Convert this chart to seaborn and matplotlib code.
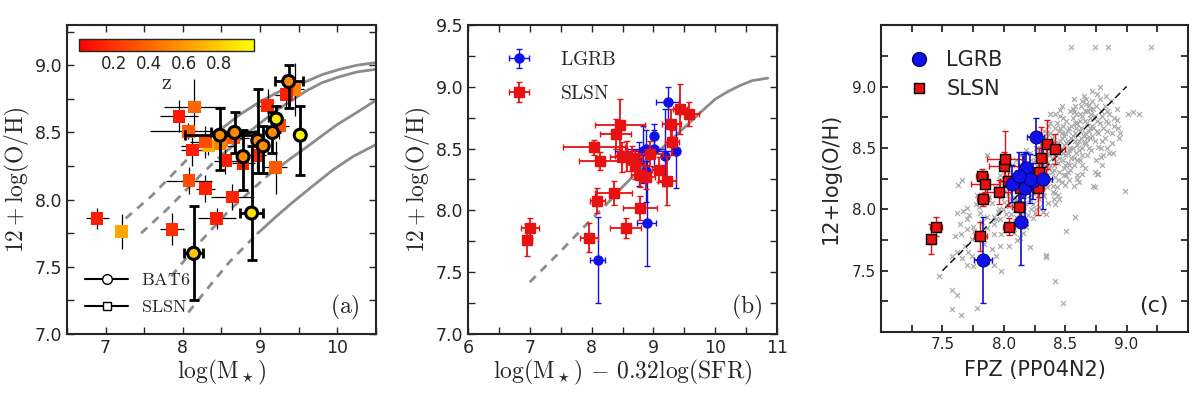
import matplotlib
matplotlib.use("Agg")
import matplotlib.pyplot as plt
import seaborn as sns
from matplotlib.lines import Line2D
from matplotlib.ticker import MultipleLocator, FixedLocator
import matplotlib.cm as cm
import matplotlib.colors as mcolors

# ---- SLSN hosts (panels a, b) ----
slsn_oh = [7.76, 7.86, 7.78, 8.08, 8.14, 7.86, 8.02, 8.51, 8.40, 8.62, 8.69, 8.43,
           8.44, 8.42, 8.37, 8.29, 8.27, 8.46, 8.33, 8.24, 8.55, 8.70, 8.82, 8.78]
slsn_mass = [7.21, 6.89, 7.86, 8.29, 8.08, 8.44, 8.64, 8.07, 8.33, 7.95, 8.15, 8.29,
             8.50, 8.48, 8.12, 8.55, 8.78, 8.66, 8.96, 9.20, 9.25, 9.10, 9.45, 9.34]
slsn_mu = [6.96, 7.00, 7.96, 8.09, 8.36, 8.55, 8.78, 8.04, 8.14, 8.39, 8.46, 8.49,
           8.58, 8.66, 8.70, 8.78, 8.88, 8.95, 9.09, 9.22, 9.30, 9.29, 9.43, 9.58]
slsn_z = [0.65, 0.12, 0.18, 0.12, 0.30, 0.12, 0.15, 0.35, 0.70, 0.10, 0.40, 0.30,
          0.45, 0.50, 0.12, 0.12, 0.12, 0.35, 0.15, 0.35, 0.30, 0.15, 0.50, 0.12]
slsn_oh_err = [0.13, 0.08, 0.12, 0.10, 0.10, 0.08, 0.10, 0.06, 0.07, 0.12, 0.21, 0.12,
               0.12, 0.10, 0.12, 0.10, 0.10, 0.10, 0.10, 0.20, 0.10, 0.12, 0.20, 0.10]
slsn_x_err = [0.07, 0.15, 0.15, 0.12, 0.30, 0.25, 0.28, 0.50, 0.35, 0.25, 0.40, 0.20,
              0.20, 0.15, 0.15, 0.15, 0.15, 0.20, 0.12, 0.15, 0.12, 0.15, 0.12, 0.15]

# ---- LGRB / BAT6 hosts (panels a, b) ----
lgrb_oh = [7.60, 8.48, 8.50, 8.32, 7.90, 8.44, 8.40, 8.50, 8.60, 8.88, 8.48]
lgrb_mass = [8.14, 8.48, 8.67, 8.78, 8.89, 8.97, 9.04, 9.16, 9.21, 9.37, 9.52]
lgrb_mu = [8.10, 8.83, 8.88, 8.88, 8.89, 9.19, 8.76, 9.01, 9.01, 9.23, 9.37]
lgrb_z = [0.78, 0.55, 0.55, 0.55, 0.88, 0.55, 0.55, 0.55, 0.92, 0.55, 0.95]
lgrb_oh_lo = [0.35, 0.26, 0.15, 0.25, 0.35, 0.24, 0.20, 0.15, 0.10, 0.20, 0.30]
lgrb_oh_hi = [0.35, 0.20, 0.15, 0.20, 0.50, 0.38, 0.15, 0.15, 0.10, 0.12, 0.22]
lgrb_x_err = [0.12, 0.45, 0.30, 0.05, 0.15, 0.05, 0.05, 0.05, 0.05, 0.18, 0.05]

# ---- FMR curves ----
fmr1_dash_x = [7.26, 7.60, 8.09, 8.53]
fmr1_dash_y = [7.86, 8.03, 8.32, 8.54]
fmr1_x = [8.53, 8.73, 9.00, 9.30, 9.60, 9.80, 10.03, 10.25, 10.50]
fmr1_y = [8.54, 8.63, 8.73, 8.82, 8.88, 8.93, 8.97, 9.00, 9.02]
fmr2_dash_x = [7.46, 7.80, 8.26, 8.50]
fmr2_dash_y = [7.75, 7.93, 8.20, 8.33]
fmr2_x = [8.50, 8.87, 9.20, 9.60, 9.80, 10.00, 10.25, 10.50]
fmr2_y = [8.33, 8.51, 8.66, 8.81, 8.87, 8.91, 8.95, 8.97]
fmr3_dash_x = [7.85, 8.20, 8.60, 9.08]
fmr3_dash_y = [7.43, 7.67, 7.92, 8.17]
fmr3_x = [9.08, 9.38, 9.60, 9.81, 10.00, 10.20, 10.50]
fmr3_y = [8.17, 8.30, 8.39, 8.48, 8.56, 8.63, 8.74]
fmr4_dash_x = [8.07, 8.35, 8.61, 8.97]
fmr4_dash_y = [7.16, 7.36, 7.54, 7.75]
fmr4_x = [8.97, 9.20, 9.40, 9.70, 9.94, 10.20, 10.50]
fmr4_y = [7.75, 7.87, 7.97, 8.11, 8.22, 8.32, 8.41]

# ---- FMR curve of panel (b) ----
fmrb_dash_x = [7.0, 7.5, 8.0, 8.3]
fmrb_dash_y = [7.42, 7.67, 7.93, 8.08]
fmrb_x = [8.3, 8.5, 9.0, 9.5, 9.8, 10.0, 10.2, 10.4, 10.6, 10.85]
fmrb_y = [8.08, 8.19, 8.44, 8.67, 8.81, 8.90, 8.96, 9.01, 9.05, 9.07]

# ---- panel (c) ----
fpz_slsn = [7.41, 7.45, 7.81, 7.83, 7.82, 7.85, 7.96, 8.00, 8.01, 8.03, 8.04, 8.12,
            8.13, 8.28, 8.29, 8.30, 8.35, 8.42]
oh_slsn_c = [7.76, 7.86, 7.78, 8.08, 8.27, 8.21, 8.14, 8.35, 8.41, 8.23, 7.86, 8.02,
             8.17, 8.17, 8.30, 8.42, 8.53, 8.49]
oh_slsn_c_err = [0.12, 0.08, 0.12, 0.05, 0.06, 0.07, 0.10, 0.12, 0.23, 0.20, 0.07, 0.12,
                 0.15, 0.22, 0.20, 0.25, 0.20, 0.12]
fpz_slsn_err = [0.03, 0.05, 0.05, 0.05, 0.05, 0.12, 0.10, 0.12, 0.15, 0.06, 0.05, 0.05,
                0.06, 0.05, 0.05, 0.03, 0.05, 0.08]
fpz_lgrb = [7.83, 8.14, 8.07, 8.16, 8.18, 8.17, 8.24, 8.32, 8.26, 8.21, 8.12]
oh_lgrb_c = [7.59, 7.90, 8.21, 8.27, 8.34, 8.17, 8.23, 8.25, 8.59, 8.25, 8.27]
oh_lgrb_c_err = [0.35, 0.35, 0.15, 0.18, 0.12, 0.30, 0.15, 0.25, 0.15, 0.20, 0.20]
fpz_lgrb_err = [0.07, 0.05, 0.05, 0.05, 0.05, 0.05, 0.05, 0.07, 0.07, 0.05, 0.05]
one_to_one = [7.5, 9.0]

# background galaxies (grey crosses), estimated by eye
bg_fpz = [8.55, 8.74, 8.85, 9.20, 8.78, 8.67, 9.01, 9.05, 9.10, 8.93, 8.95, 8.77, 8.77,
          8.74, 8.99, 8.58, 8.51, 8.42, 8.48, 8.34, 8.34, 8.21, 8.11,
          7.47, 7.58, 7.62, 7.58, 7.65, 7.78, 7.62, 7.67, 7.63, 7.66, 7.86, 7.70, 7.75,
          7.71, 7.62, 7.74, 7.86, 7.92, 7.94, 7.98, 7.97, 8.04, 8.08, 8.13, 8.16, 8.24,
          8.25, 8.29, 8.34, 8.42, 7.70, 7.77, 7.81, 7.86, 7.92, 7.97, 7.99, 8.04, 8.10,
          8.18, 7.75, 7.70, 7.65, 7.86, 7.97, 8.08, 8.21, 8.24, 8.33, 8.40, 8.42, 8.45,
          8.69, 8.46, 8.38, 8.57, 8.92, 8.84, 8.79, 8.76, 8.64, 8.57, 8.73, 8.64, 8.60,
          7.90, 7.93, 7.95, 7.98, 8.00, 8.02, 8.03, 8.05, 8.06, 8.08, 8.09, 8.10, 7.92,
          7.97, 8.04,
          8.11, 8.12, 8.13, 8.14, 8.15, 8.16, 8.17, 8.18, 8.19, 8.20, 8.21, 8.22, 8.23,
          8.24, 8.25, 8.12, 8.14, 8.17, 8.20, 8.23, 8.13, 8.18, 8.22,
          8.26, 8.27, 8.28, 8.29, 8.30, 8.30, 8.31, 8.32, 8.33, 8.34, 8.34, 8.35, 8.36,
          8.36, 8.37, 8.38, 8.38, 8.39, 8.40, 8.40, 8.27, 8.29, 8.31, 8.33, 8.35, 8.37,
          8.39, 8.26, 8.32, 8.28, 8.36, 8.33,
          8.41, 8.41, 8.42, 8.42, 8.43, 8.43, 8.44, 8.44, 8.45, 8.45, 8.46, 8.46, 8.47,
          8.47, 8.48, 8.48, 8.49, 8.49, 8.50, 8.50, 8.51, 8.51, 8.52, 8.52, 8.53, 8.53,
          8.54, 8.54, 8.55, 8.55, 8.41, 8.44, 8.47, 8.50, 8.53, 8.42, 8.46, 8.49, 8.52,
          8.55,
          8.56, 8.56, 8.57, 8.58, 8.58, 8.59, 8.60, 8.60, 8.61, 8.62, 8.62, 8.63, 8.64,
          8.64, 8.65, 8.66, 8.66, 8.67, 8.68, 8.68, 8.69, 8.70, 8.57, 8.61, 8.65, 8.70,
          8.59, 8.63,
          8.71, 8.72, 8.73, 8.74, 8.75, 8.76, 8.77, 8.78, 8.79, 8.80, 8.81, 8.82, 8.84,
          8.85, 8.86, 8.88, 8.72, 8.74, 8.83, 8.90, 8.80,
          8.31, 8.33, 8.35, 8.37, 8.39, 8.41, 8.43, 8.45, 8.47, 8.49, 8.51, 8.53, 8.35,
          8.38, 8.42, 8.46, 8.48, 8.50, 8.52, 8.54, 8.32, 8.36, 8.40, 8.44, 8.48, 8.52,
          8.30, 8.34, 8.38, 8.42,
          8.56, 8.58, 8.60, 8.62, 8.64, 8.66, 8.68, 8.70, 8.72, 8.74, 8.57, 8.59, 8.61,
          8.63, 8.65, 8.67, 8.69, 8.71, 8.73, 8.75, 8.56, 8.60, 8.64, 8.68, 8.72, 8.76,
          8.58, 8.62, 8.66, 8.70,
          8.01, 8.03, 8.05, 8.07, 8.09, 8.11, 8.13, 8.15, 8.17, 8.19, 8.21, 8.23, 8.25,
          8.27, 8.29, 8.02, 8.06, 8.10, 8.14, 8.18, 8.22, 8.26, 8.28, 8.16, 8.20, 8.24,
          8.12, 8.08, 8.04, 8.00,
          7.60, 7.64, 7.68, 7.72, 7.76, 7.80, 7.84, 7.88, 7.92, 7.96, 7.66, 7.74, 7.82,
          7.90, 7.78, 7.86, 7.94, 7.98, 7.70, 7.58,
          8.78, 8.80, 8.82, 8.84, 8.86, 8.88, 8.90, 8.92, 8.76, 8.81, 8.87, 8.94, 8.79,
          8.83, 8.89]
bg_oh = [9.32, 9.32, 9.32, 9.32, 9.00, 8.90, 8.78, 8.79, 8.78, 8.66, 8.62, 8.51, 8.29,
         8.18, 8.15, 7.94, 7.82, 7.42, 7.24, 7.63, 7.61, 7.69, 7.75,
         7.46, 7.34, 7.30, 7.19, 7.14, 7.20, 7.97, 7.99, 8.20, 8.24, 8.44, 7.55, 7.54,
         7.65, 7.65, 7.76, 7.57, 7.55, 7.62, 7.50, 7.70, 7.70, 7.81, 7.77, 7.81, 7.93,
         7.97, 8.02, 7.96, 8.04, 8.01, 8.04, 7.97, 7.94, 7.94, 7.92, 8.00, 8.03, 7.94,
         7.86, 7.86, 7.92, 7.80, 8.19, 8.24, 8.08, 8.08, 8.13, 8.11, 8.19, 8.13, 8.08,
         8.85, 8.81, 8.78, 8.79, 8.73, 8.50, 8.43, 8.29, 8.29, 8.19, 8.19, 8.36, 8.25,
         8.05, 8.18, 7.98, 8.10, 8.22, 7.96, 8.12, 8.30, 8.04, 8.18, 7.90, 8.25, 7.88,
         8.28, 7.84,
         8.08, 8.36, 8.15, 7.98, 8.26, 8.42, 8.05, 8.20, 8.32, 7.95, 8.12, 8.40, 8.24,
         8.04, 8.33, 8.22, 8.30, 8.12, 8.28, 8.15, 7.90, 8.48, 8.00,
         8.18, 8.44, 8.28, 8.08, 8.36, 8.52, 8.22, 8.12, 8.40, 8.30, 8.58, 8.18, 8.46,
         8.05, 8.34, 8.24, 8.62, 8.42, 8.14, 8.52, 8.35, 8.60, 8.48, 8.26, 8.38, 8.55,
         8.30, 8.00, 7.98, 8.50, 8.68, 8.64,
         8.36, 8.60, 8.26, 8.46, 8.70, 8.18, 8.54, 8.38, 8.64, 8.30, 8.48, 8.76, 8.22,
         8.58, 8.40, 8.68, 8.34, 8.52, 8.62, 8.44, 8.28, 8.72, 8.56, 8.38, 8.66, 8.48,
         8.80, 8.32, 8.58, 8.42, 8.08, 8.12, 8.84, 8.20, 8.24, 8.78, 8.66, 8.60, 8.46,
         8.68,
         8.50, 8.74, 8.36, 8.62, 8.84, 8.46, 8.70, 8.28, 8.56, 8.78, 8.40, 8.66, 8.50,
         8.88, 8.60, 8.34, 8.72, 8.54, 8.80, 8.44, 8.64, 8.58, 8.90, 8.22, 8.92, 8.74,
         8.66, 8.58,
         8.48, 8.68, 8.82, 8.56, 8.40, 8.72, 8.62, 8.90, 8.50, 8.76, 8.66, 8.58, 8.80,
         8.70, 8.46, 8.62, 8.96, 8.30, 8.92, 8.74, 8.36,
         8.38, 8.50, 8.28, 8.44, 8.58, 8.32, 8.50, 8.42, 8.62, 8.28, 8.54, 8.36, 8.62,
         8.70, 8.66, 8.56, 8.74, 8.36, 8.64, 8.50, 8.34, 8.52, 8.46, 8.24, 8.46, 8.30,
         8.44, 8.20, 8.36, 8.54,
         8.60, 8.70, 8.52, 8.64, 8.76, 8.62, 8.70, 8.82, 8.60, 8.76, 8.42, 8.78, 8.48,
         8.84, 8.54, 8.86, 8.50, 8.78, 8.66, 8.84, 8.82, 8.40, 8.44, 8.58, 8.88, 8.64,
         8.56, 8.72, 8.80, 8.66,
         8.15, 8.26, 8.08, 8.36, 8.20, 8.30, 8.44, 8.12, 8.34, 8.22, 8.46, 8.30, 8.40,
         8.22, 8.46, 8.34, 7.96, 8.40, 8.20, 8.38, 8.18, 8.50, 8.12, 8.02, 8.36, 8.28,
         8.26, 8.10, 8.20, 8.06,
         7.78, 7.88, 7.70, 7.95, 7.82, 8.02, 7.72, 8.10, 7.80, 8.00, 7.60, 7.62, 7.90,
         7.68, 8.12, 7.85, 7.92, 7.80, 7.84, 7.62,
         8.70, 8.56, 8.84, 8.64, 8.78, 8.54, 8.68, 8.82, 8.94, 8.44, 8.88, 8.58, 8.80,
         8.72, 8.46]

sns.set_style("ticks")
plt.rcParams["mathtext.fontset"] = "cm"
plt.rcParams["font.family"] = ["DejaVu Sans"]
plt.rcParams["xtick.direction"] = "in"
plt.rcParams["ytick.direction"] = "in"
plt.rcParams["xtick.top"] = True
plt.rcParams["ytick.right"] = True

fig = plt.figure(figsize=(12, 4.09), dpi=100)
ax_a = fig.add_axes([0.0558, 0.1834, 0.2575, 0.7555])
ax_b = fig.add_axes([0.39, 0.1834, 0.2575, 0.7555])
ax_c = fig.add_axes([0.7342, 0.188, 0.2558, 0.7506])

grey = "#8c8c8c"
norm = mcolors.Normalize(0, 1)

# ---------------- panel (a) ----------------
ax = ax_a
for dx, dy, sx, sy in [(fmr1_dash_x, fmr1_dash_y, fmr1_x, fmr1_y),
                       (fmr2_dash_x, fmr2_dash_y, fmr2_x, fmr2_y),
                       (fmr3_dash_x, fmr3_dash_y, fmr3_x, fmr3_y),
                       (fmr4_dash_x, fmr4_dash_y, fmr4_x, fmr4_y)]:
    ax.plot(dx, dy, color=grey, lw=2, ls=(0, (3, 2.5)), zorder=1)
    ax.plot(sx, sy, color=grey, lw=2, zorder=1)
ax.errorbar(slsn_mass, slsn_oh, xerr=slsn_x_err, yerr=slsn_oh_err, fmt="none",
            ecolor="black", elinewidth=0.9, capsize=0, zorder=2)
sns.scatterplot(x=slsn_mass, y=slsn_oh, hue=slsn_z, palette="autumn", hue_norm=norm,
                marker="s", s=85, edgecolor="none", legend=False, ax=ax, zorder=3)
ax.errorbar(lgrb_mass, lgrb_oh, xerr=lgrb_x_err, yerr=[lgrb_oh_lo, lgrb_oh_hi],
            fmt="none", ecolor="black", elinewidth=2, capsize=3.5, capthick=2, zorder=4)
sns.scatterplot(x=lgrb_mass, y=lgrb_oh, hue=lgrb_z, palette="autumn", hue_norm=norm,
                marker="o", s=75, edgecolor="black", linewidth=2.2, legend=False,
                ax=ax, zorder=5)
ax.set_xlim(6.5, 10.5)
ax.set_ylim(7.0, 9.3)
ax.xaxis.set_major_locator(MultipleLocator(1))
ax.xaxis.set_minor_locator(MultipleLocator(0.5))
ax.yaxis.set_major_locator(MultipleLocator(0.5))
ax.yaxis.set_minor_locator(MultipleLocator(0.25))
ax.yaxis.set_major_formatter(matplotlib.ticker.FormatStrFormatter("%.1f"))
ax.set_xlabel(r"$\log({\rm M}_\star)$", fontsize=17, labelpad=1)
ax.set_ylabel(r"$12+\log({\rm O/H})$", fontsize=17, labelpad=2)
ax.text(0.90, 0.085, r"$({\rm a})$", transform=ax.transAxes, fontsize=17,
        ha="center", va="center")
leg_a = [Line2D([], [], color="black", lw=1.5, marker="o", mfc="white", mec="black",
                ms=7, label=r"${\rm BAT6}$"),
         Line2D([], [], color="black", lw=1.5, marker="s", mfc="white", mec="black",
                ms=6, label=r"${\rm SLSN}$")]
ax.legend(handles=leg_a, loc="lower left", frameon=False, fontsize=13,
          handlelength=2.4, handletextpad=0.7, borderaxespad=0.6)
cax = ax.inset_axes([0.039, 0.916, 0.566, 0.04])
cb = fig.colorbar(cm.ScalarMappable(norm=norm, cmap="autumn"), cax=cax,
                  orientation="horizontal")
cb.set_ticks([0.2, 0.4, 0.6, 0.8])
cb.ax.tick_params(axis="x", which="major", length=0, labelsize=12, pad=3,
                  top=False)
cb.ax.xaxis.set_minor_locator(FixedLocator([0.4, 0.8]))
cb.ax.tick_params(axis="x", which="minor", length=9, direction="in", color="black",
                  width=0.8, top=False)
cb.outline.set_linewidth(1)
cb.set_label(r"${\rm z}$", fontsize=16, labelpad=0)

# ---------------- panel (b) ----------------
ax = ax_b
ax.plot(fmrb_dash_x, fmrb_dash_y, color=grey, lw=2, ls=(0, (3, 2.5)), zorder=1)
ax.plot(fmrb_x, fmrb_y, color=grey, lw=2, zorder=1)
ax.errorbar(lgrb_mu, lgrb_oh, xerr=lgrb_x_err, yerr=[lgrb_oh_lo, lgrb_oh_hi],
            fmt="o", color="#1010e8", ms=6.5, elinewidth=1, capsize=2.5,
            label=r"${\rm LGRB}$", zorder=3)
ax.errorbar(slsn_mu, slsn_oh, xerr=slsn_x_err, yerr=slsn_oh_err, fmt="s",
            color="#e81010", ms=6.5, elinewidth=1.3, capsize=2.5,
            label=r"${\rm SLSN}$", zorder=4)
ax.set_xlim(6, 11)
ax.set_ylim(7.0, 9.5)
ax.xaxis.set_major_locator(MultipleLocator(1))
ax.xaxis.set_minor_locator(MultipleLocator(0.5))
ax.yaxis.set_major_locator(MultipleLocator(0.5))
ax.yaxis.set_minor_locator(MultipleLocator(0.25))
ax.yaxis.set_major_formatter(matplotlib.ticker.FormatStrFormatter("%.1f"))
ax.set_xlabel(r"$\log({\rm M}_\star)\,-\,0.32\log({\rm SFR})$", fontsize=17,
              labelpad=1)
ax.set_ylabel(r"$12+\log({\rm O/H})$", fontsize=17, labelpad=2)
ax.text(0.90, 0.085, r"$({\rm b})$", transform=ax.transAxes, fontsize=17,
        ha="center", va="center")
ax.legend(loc="upper left", frameon=False, fontsize=14, handlelength=2.0,
          handletextpad=1.1, labelspacing=0.75, borderaxespad=0.9,
          bbox_to_anchor=(0.02, 1.0))

# ---------------- panel (c) ----------------
ax = ax_c
sns.scatterplot(x=bg_fpz, y=bg_oh, marker="x", color="#a8a8a8", s=13, linewidth=0.85,
                ax=ax, zorder=1)
ax.plot(one_to_one, one_to_one, color="black", lw=1, ls=(0, (5, 3)), zorder=2)
ax.errorbar(fpz_slsn, oh_slsn_c, xerr=fpz_slsn_err, yerr=oh_slsn_c_err, fmt="none",
            ecolor="#e81010", elinewidth=1, capsize=2.5, zorder=3)
ax.errorbar(fpz_lgrb, oh_lgrb_c, xerr=fpz_lgrb_err, yerr=oh_lgrb_c_err, fmt="none",
            ecolor="#1010d0", elinewidth=1.2, capsize=2.5, zorder=4)
sns.scatterplot(x=fpz_slsn, y=oh_slsn_c, marker="s", color="#e81010", s=55,
                edgecolor="black", linewidth=1, ax=ax, zorder=5)
sns.scatterplot(x=fpz_lgrb, y=oh_lgrb_c, marker="o", color="#1010e8", s=90,
                edgecolor="#000060", linewidth=0.6, ax=ax, zorder=6)
ax.set_xlim(7.0, 9.5)
ax.set_ylim(7.0, 9.5)
ax.xaxis.set_major_locator(FixedLocator([7.5, 8.0, 8.5, 9.0]))
ax.yaxis.set_major_locator(FixedLocator([7.5, 8.0, 8.5, 9.0]))
ax.xaxis.set_minor_locator(MultipleLocator(0.25))
ax.yaxis.set_minor_locator(MultipleLocator(0.25))
ax.tick_params(which="both", length=5, width=1.3, labelsize=11)
for s in ax.spines.values():
    s.set_linewidth(1.5)
ax.set_xlabel("FPZ (PP04N2)", fontsize=15, labelpad=6)
ax.set_ylabel("12+log(O/H)", fontsize=15, labelpad=8)
ax.text(0.89, 0.085, "(c)", transform=ax.transAxes, fontsize=16,
        ha="center", va="center")
leg_c = [Line2D([], [], ls="none", marker="o", color="#1010e8", mec="#000060", ms=10,
                label="LGRB"),
         Line2D([], [], ls="none", marker="s", color="#e81010", mec="black", ms=7,
                label="SLSN")]
ax.legend(handles=leg_c, loc="upper left", frameon=False, fontsize=15,
          handlelength=1.0, handletextpad=0.8, labelspacing=0.45,
          bbox_to_anchor=(0.03, 0.98))

for ax in (ax_a, ax_b):
    ax.tick_params(which="both", length=5, width=1, labelsize=12.5)
    for s in ax.spines.values():
        s.set_linewidth(1.5)

fig.savefig("out.png", dpi=100)
